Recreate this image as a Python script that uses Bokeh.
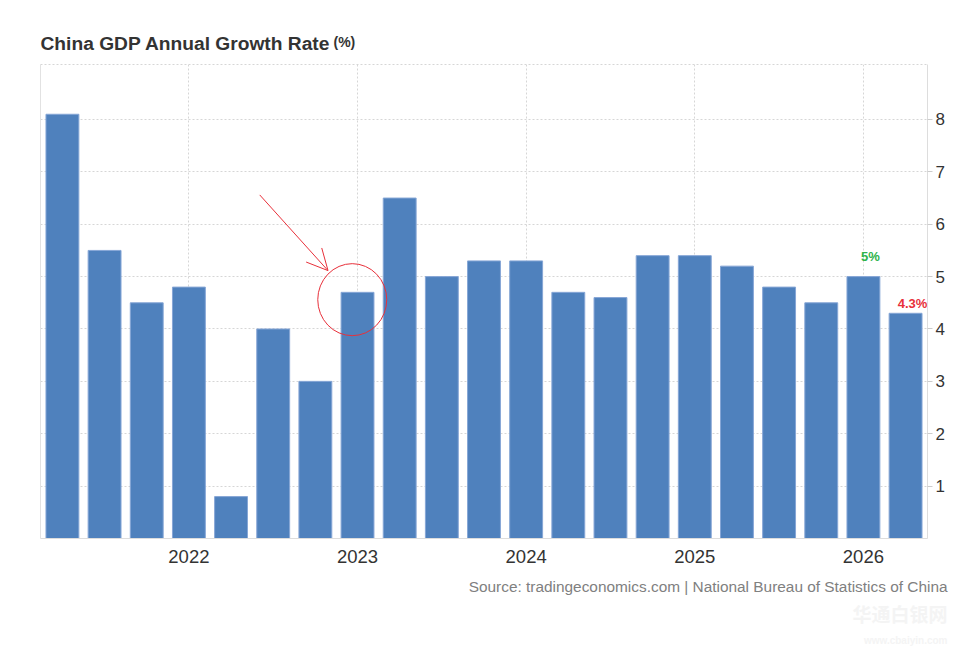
from bokeh.plotting import figure
from bokeh.models import (ColumnDataSource, Range1d, FixedTicker, LinearAxis, Label,
                          Arrow, OpenHead, Title)
from bokeh.core.properties import value
from bokeh.embed import file_html
from bokeh.resources import INLINE

# ---------------- data ----------------
quarters = ["2021 Q2", "2021 Q3", "2021 Q4",
            "2022 Q1", "2022 Q2", "2022 Q3", "2022 Q4",
            "2023 Q1", "2023 Q2", "2023 Q3", "2023 Q4",
            "2024 Q1", "2024 Q2", "2024 Q3", "2024 Q4",
            "2025 Q1", "2025 Q2", "2025 Q3", "2025 Q4",
            "2026 Q1", "2026 Q2"]
growth = [8.1, 5.5, 4.5, 4.8, 0.8, 4.0, 3.0, 4.7, 6.5, 5.0, 5.3,
          5.3, 4.7, 4.6, 5.4, 5.4, 5.2, 4.8, 4.5, 5.0, 4.3]
y_ticks = [1, 2, 3, 4, 5, 6, 7, 8]
callout_quarters = ["2026 Q1", "2026 Q2"]
callout_texts = ["5%", "4.3%"]
highlight_quarter = "2023 Q1"

title_text = "China GDP Annual Growth Rate"
unit_text = "(%)"
source_text = "Source: tradingeconomics.com | National Bureau of Statistics of China"
watermark_text = "华通白银网"
watermark_url = "www.cbaiyin.com"

# ---------------- derived ----------------
idx = list(range(len(quarters)))
year_ticks = [i for i, q in zip(idx, quarters) if q.endswith("Q1")]
year_labels = {i: quarters[i].split()[0] for i in year_ticks}

FONT = "Liberation Sans"
BAR = "#4F81BD"
RED = "#E8303A"
GREEN = "#2EB34B"

src = ColumnDataSource(dict(x=idx, top=growth, q=quarters))

p = figure(width=956, height=650,
           x_range=Range1d(-0.52, len(quarters) - 0.48),
           y_range=Range1d(0, 9.05),
           y_axis_location="right",
           output_backend="svg", toolbar_location=None,
           min_border_left=40, min_border_right=29,
           min_border_top=64, min_border_bottom=112)
p.outline_line_color = None
p.background_fill_color = "white"
p.border_fill_color = "white"

# bars
p.vbar(x="x", top="top", bottom=0, width=0.78, source=src,
       fill_color=BAR, line_color="#86A6D6", line_width=1)

# axes
xa = p.xaxis[0]
xa.ticker = FixedTicker(ticks=year_ticks)
xa.major_label_overrides = year_labels
xa.axis_line_color = "#dddddd"
xa.major_tick_line_color = None
xa.minor_tick_line_color = None
xa.major_label_text_font = FONT
xa.major_label_text_font_size = "18.5px"
xa.major_label_text_color = "#333333"
xa.major_label_standoff = 5

ya = p.yaxis[0]
ya.ticker = FixedTicker(ticks=y_ticks)
ya.axis_line_color = "#dddddd"
ya.major_tick_line_color = "#cccccc"
ya.major_tick_out = 5
ya.major_tick_in = 0
ya.minor_tick_line_color = None
ya.major_label_text_font = FONT
ya.major_label_text_font_size = "17px"
ya.major_label_text_color = "#333333"
ya.major_label_standoff = 3

left_axis = LinearAxis(ticker=FixedTicker(ticks=[]), axis_line_color="#e2e2e2",
                       major_tick_line_color=None, minor_tick_line_color=None,
                       major_label_text_font_size="0px")
p.add_layout(left_axis, "left")
top_axis = LinearAxis(ticker=FixedTicker(ticks=[]), axis_line_color="#d6d6d6",
                      axis_line_dash="2 2",
                      major_tick_line_color=None, minor_tick_line_color=None,
                      major_label_text_font_size="0px")
p.add_layout(top_axis, "above")

# grids
p.xgrid.ticker = FixedTicker(ticks=year_ticks)
p.ygrid.ticker = FixedTicker(ticks=y_ticks)
for g in (p.xgrid[0], p.ygrid[0]):
    g.grid_line_color = "#d6d6d6"
    g.grid_line_dash = "2 2"
    g.grid_line_width = 1

# callout labels
c_colors = [GREEN, RED]
c_yoff = [-20, -10]
for q, t, c, yo in zip(callout_quarters, callout_texts, c_colors, c_yoff):
    i = quarters.index(q)
    p.text(x=[i], y=[growth[i]], text=[t], x_offset=7, y_offset=yo,
           text_align="center", text_baseline="middle",
           text_font=value(FONT), text_font_style="bold",
           text_font_size="13px", text_color=c)

# highlight circle + arrow
h = quarters.index(highlight_quarter)
p.ellipse(x=[h - 0.125], y=[4.56], width=69, height=72,
          width_units="screen", height_units="screen",
          fill_color=None, line_color=RED, line_width=1)
p.add_layout(Arrow(x_start=h - 2.32, y_start=6.56, x_end=h - 0.70, y_end=5.115,
                   line_color=RED, line_width=1,
                   end=OpenHead(size=21, line_color=RED, line_width=1)))

# title and source as Titles (rendered in the canvas margins)
p.add_layout(Title(text=title_text, align="left", text_font=FONT,
                   text_font_style="bold", text_font_size="19.2px",
                   text_color="#333333", standoff=21), "above")
p.add_layout(Title(text=source_text, align="right", offset=-20, text_font=FONT,
                   text_font_style="normal", text_font_size="15.4px",
                   text_color="#808080", standoff=21), "below")

# unit label placed in the top margin panel
p.add_layout(Label(x=293, y=-21.5, x_units="screen", y_units="screen",
                   text=unit_text, text_font=FONT, text_font_style="bold",
                   text_font_size="14px", text_color="#333333",
                   text_baseline="alphabetic"), "above")
# faint watermark in the bottom margin panel
p.add_layout(Label(x=907, y=19, x_units="screen", y_units="screen",
                   text=watermark_text, text_font="Noto Sans CJK SC",
                   text_font_style="bold",
                   text_font_size="19px", text_color="#f4f4f4",
                   text_align="right", text_baseline="alphabetic"), "below")
p.add_layout(Label(x=907, y=3, x_units="screen", y_units="screen",
                   text=watermark_url, text_font=FONT, text_font_style="bold",
                   text_font_size="10px", text_color="#f4f4f4",
                   text_align="right", text_baseline="alphabetic"), "below")

open("out.html", "w").write(file_html(p, INLINE))
